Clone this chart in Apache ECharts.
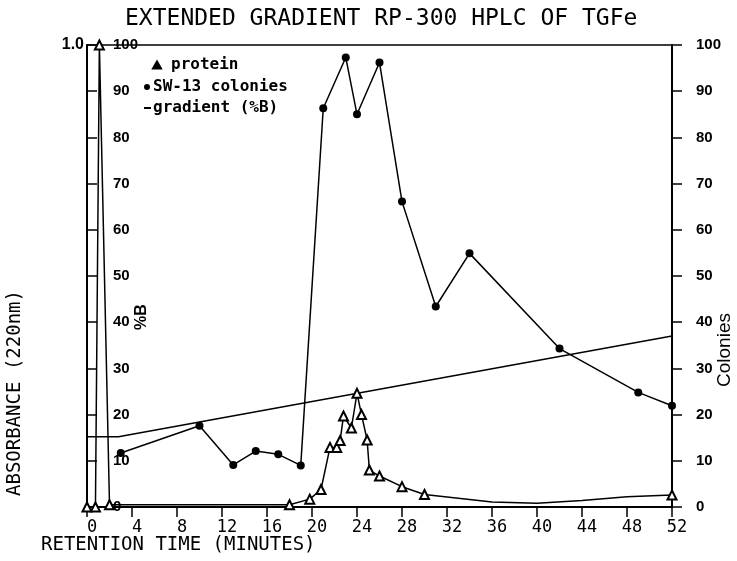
<!DOCTYPE html>
<html><head><meta charset="utf-8">
<script src="https://cdn.jsdelivr.net/npm/echarts@6/dist/echarts.min.js"></script>
<style>html,body{margin:0;padding:0;background:#fff}#c{width:737px;height:561px}</style>
</head><body><div id="c"></div>
<script>
// ---- data ----
const titleText = 'EXTENDED GRADIENT RP-300 HPLC OF TGFe';
const xName = 'RETENTION TIME (MINUTES)';
const absName = 'ABSORBANCE (220nm)';
const pctBName = '%B';
const colName = 'Colonies';
const seriesNames = ['protein', 'SW-13 colonies', 'gradient (%B)'];

// protein (absorbance units, 0 - 1.0)
const proteinTime = [0, 0.75, 1.1, 2.0, 18, 19.8, 20.8, 21.6, 22.2, 22.5, 22.8, 23.5, 24, 24.4, 24.9, 25.1, 26, 28, 30, 36, 40, 44, 48, 52];
const proteinAbs  = [0, 0, 1.0, 0.005, 0.005, 0.017, 0.038, 0.129, 0.129, 0.144, 0.197, 0.171, 0.246, 0.200, 0.145, 0.080, 0.067, 0.044, 0.027, 0.011, 0.008, 0.014, 0.022, 0.026];

// SW-13 colonies
const colonyTime  = [3, 10, 13, 15, 17, 19, 21, 23, 24, 26, 28, 31, 34, 42, 49, 52];
const colonyCount = [11.7, 17.6, 9.1, 12.1, 11.4, 9.0, 86.3, 97.3, 85.0, 96.2, 66.1, 43.4, 54.9, 34.3, 24.8, 21.9];

// gradient (%B)
const gradientTime = [0, 2.8, 52];
const gradientPctB = [15.2, 15.2, 37];

// ---- chart ----
const mono = "'DejaVu Sans Mono', monospace";
const narrow = "'Liberation Sans Narrow', 'Liberation Sans', sans-serif";
const chart = echarts.init(document.getElementById('c'));
chart.setOption({
  animation: false,
  backgroundColor: '#fff',
  title: { text: titleText, left: 120, top: 3,
    textStyle: { fontFamily: mono, fontSize: 23, fontWeight: 'normal', color: '#000' } },
  grid: { left: 87, right: 65, top: 45, bottom: 54, show: true, borderColor: '#000', borderWidth: 1.5, containLabel: false },
  legend: [
    { data: [seriesNames[0]], left: 152, top: 57, padding: 0, icon: 'triangle', itemWidth: 8, itemHeight: 7, selectedMode: false,
      itemStyle: { color: '#000' }, textStyle: { fontFamily: mono, fontSize: 16, fontWeight: 'bold', color: '#000', padding: [0,0,0,5] } },
    { data: [seriesNames[1]], left: 144, top: 79, padding: 0, icon: 'circle', itemWidth: 6, itemHeight: 6, selectedMode: false,
      itemStyle: { color: '#000' }, textStyle: { fontFamily: mono, fontSize: 16, fontWeight: 'bold', color: '#000', padding: [0,0,0,-2] } },
    { data: [seriesNames[2]], left: 144, top: 100, padding: 0, icon: 'rect', itemWidth: 7, itemHeight: 2, selectedMode: false,
      itemStyle: { color: '#000' }, textStyle: { fontFamily: mono, fontSize: 16, fontWeight: 'bold', color: '#000', padding: [0,0,0,-3] } }
  ],
  xAxis: {
    type: 'value', min: 0, max: 52, interval: 4,
    axisLine: { show: true, lineStyle: { color: '#000', width: 2 } },
    axisTick: { show: true, length: 10, lineStyle: { color: '#000', width: 1.5 } },
    axisLabel: { margin: 12, color: '#000', fontFamily: mono, fontSize: 17, padding: [0,0,0,10] },
    splitLine: { show: false }
  },
  yAxis: [
    { type: 'value', position: 'left', min: 0, max: 1, interval: 0.1,
      axisLine: { show: true, lineStyle: { color: '#000', width: 2 } },
      axisTick: { show: true, inside: true, length: 10, lineStyle: { color: '#000', width: 1.5 } },
      axisLabel: { formatter: v => (Math.abs(v - 1) < 1e-6 ? '1.0' : ''), margin: 3, color: '#000',
        fontFamily: "'Liberation Sans', sans-serif", fontSize: 16, fontWeight: 'bold' },
      splitLine: { show: false } },
    { type: 'value', position: 'left', min: 0, max: 100, interval: 10,
      axisLine: { show: false }, axisTick: { show: false },
      axisLabel: { inside: true, margin: 26, color: '#000', fontFamily: narrow, fontSize: 15, fontWeight: 'bold' },
      splitLine: { show: false } },
    { type: 'value', position: 'right', min: 0, max: 100, interval: 10,
      axisLine: { show: true, lineStyle: { color: '#000', width: 2 } },
      axisTick: { show: true, length: 10, lineStyle: { color: '#000', width: 1.5 } },
      axisLabel: { margin: 24, color: '#000', fontFamily: narrow, fontSize: 15, fontWeight: 'bold' },
      splitLine: { show: false } }
  ],
  series: [
    { name: seriesNames[0], type: 'line', yAxisIndex: 0, color: '#000',
      data: proteinTime.map((t, i) => ({ value: [t, proteinAbs[i]], symbol: (t > 30 && t < 52) ? 'none' : 'triangle' })),
      symbolSize: 9, lineStyle: { color: '#000', width: 1.5 },
      itemStyle: { color: '#fff', borderColor: '#000', borderWidth: 2 }, z: 3 },
    { name: seriesNames[1], type: 'line', yAxisIndex: 2, color: '#000',
      data: colonyTime.map((t, i) => [t, colonyCount[i]]),
      symbol: 'circle', symbolSize: 8, lineStyle: { color: '#000', width: 1.5 },
      itemStyle: { color: '#000' }, z: 4 },
    { name: seriesNames[2], type: 'line', yAxisIndex: 1, color: '#000',
      data: gradientTime.map((t, i) => [t, gradientPctB[i]]),
      symbol: 'none', lineStyle: { color: '#000', width: 1.5 }, z: 2 }
  ],
  graphic: [
    { type: 'text', x: 15, y: 393, rotation: Math.PI / 2,
      style: { text: absName, font: "19px 'DejaVu Sans Mono', monospace", fill: '#000', textAlign: 'center', textVerticalAlign: 'middle' } },
    { type: 'text', x: 41, y: 545,
      style: { text: xName, font: "19px 'DejaVu Sans Mono', monospace", fill: '#000', textAlign: 'left', textVerticalAlign: 'middle' } },
    { type: 'text', x: 142, y: 317, rotation: Math.PI / 2,
      style: { text: pctBName, font: "bold 16px 'Liberation Sans', sans-serif", fill: '#000', textAlign: 'center', textVerticalAlign: 'middle' } },
    { type: 'text', x: 725, y: 350, rotation: Math.PI / 2,
      style: { text: colName, font: "19px 'Liberation Sans', sans-serif", fill: '#000', textAlign: 'center', textVerticalAlign: 'middle' } }
  ]
});
</script>
</body></html>
